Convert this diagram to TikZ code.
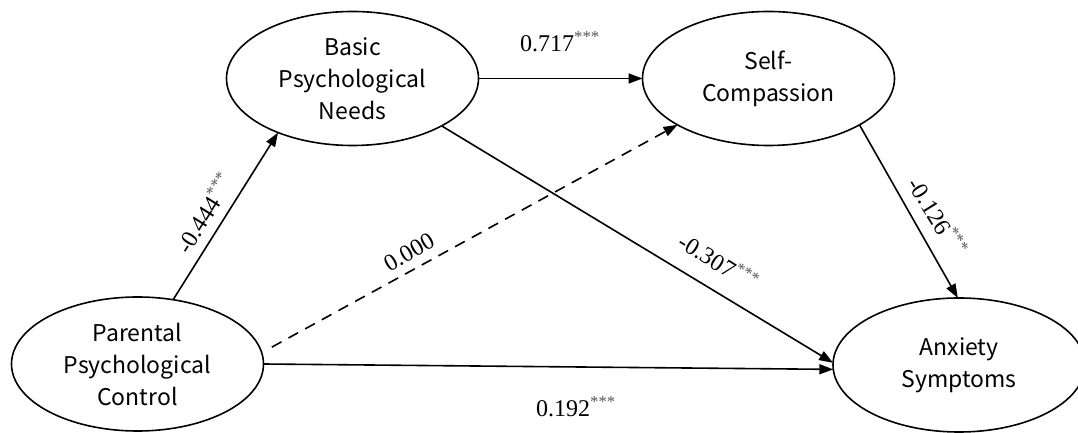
\documentclass[tikz,border=0pt]{standalone}
\usepackage{fontspec}
\setmainfont{Liberation Serif}
\newfontfamily\elfont{Noto Sans CJK SC}
\usetikzlibrary{arrows.meta,shapes.geometric}
\tikzset{
  var/.style={draw, line width=1.6pt, ellipse, inner sep=0pt, outer sep=0pt, align=center,
     minimum width=252pt, minimum height=134pt,
     font=\elfont\fontsize{23}{32}\selectfont},
  sempath/.style={line width=1.6pt, -{Triangle[length=14pt,width=10pt]}},
  coef/.style={font=\fontsize{24}{26}\selectfont, inner sep=0pt}
}
\newcommand{\sig}{\textsuperscript{\textcolor{black!65}{***}}}
\begin{document}
\begin{tikzpicture}[x=1pt,y=1pt]
\useasboundingbox (0,0) rectangle (1078,433);
\node[var] (bpn) at (352.5,354.5) {Basic\\Psychological\\Needs};
\node[var] (sc) at (768.5,354.5) {Self-\\Compassion};
\node[var] (ppc) at (137.5,69) {Parental\\Psychological\\Control};
\node[var] (as) at (959,68) {Anxiety\\Symptoms};

\draw[sempath] (ppc.61) -- (bpn.216);
\draw[sempath] (bpn.east) -- (sc.west);
\draw[sempath, dash pattern=on 11pt off 8pt] ([shift={(10,6)}]ppc.5) -- (sc.207);
\draw[sempath] (bpn.-28) -- (as.179);
\draw[sempath] (ppc.0) -- (as.182);
\draw[sempath] (sc.-27.5) -- (as.91);

\node[coef] (l1) at (560,391) {0.717\sig};
\node[coef, rotate=58] (l2) at (204,220) {-0.444\sig};
\node[coef, rotate=30] (l3) at (409,181) {0.000};
\node[coef, rotate=-32] (l4) at (719,172) {-0.307\sig};
\node[coef, rotate=-58] (l5) at (938,217) {-0.126\sig};
\node[coef] (l6) at (576,26) {0.192\sig};
\end{tikzpicture}
\end{document}
